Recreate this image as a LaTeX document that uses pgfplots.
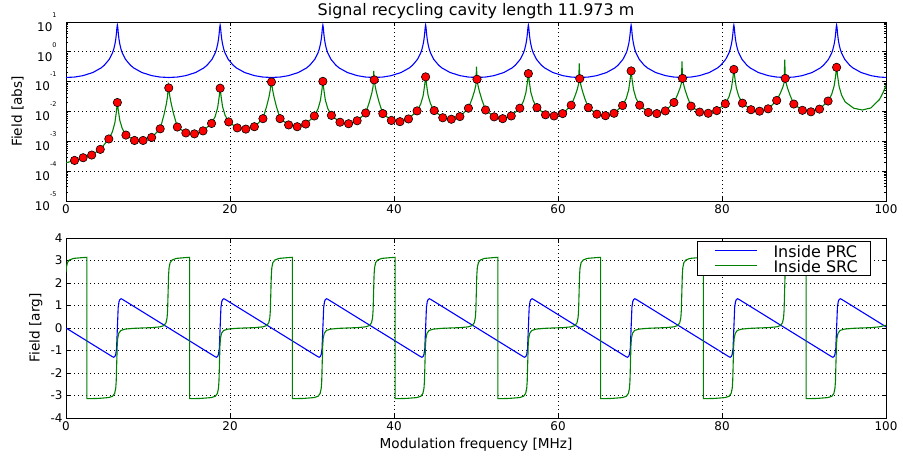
\documentclass[border=0pt]{standalone}
\usepackage{fontspec}
\setmainfont{DejaVu Sans}
\usepackage{pgfplots}
\pgfplotsset{compat=1.18}
\definecolor{mplblue}{rgb}{0,0,1}
\definecolor{mplgreen}{rgb}{0,0.5,0}
\newcommand{\tl}[1]{10\raisebox{14bp}{\fontsize{6.5}{7}\selectfont #1}}
\begin{document}
\begin{tikzpicture}
\useasboundingbox (0bp,0bp) rectangle (903bp,460bp);
\pgfplotsset{
  every axis/.append style={
    scale only axis, width=820bp,
    axis line style={line width=0.9bp},
    tick style={black, line width=0.8bp},
    major tick length=4.5bp, minor tick length=2.5bp,
    tick align=inside, xtick pos=both, ytick pos=both,
    grid=major, grid style={black, line width=0.8bp, dash pattern=on 1bp off 3bp},
    tick label style={font=\fontsize{12}{12}\selectfont},
    label style={font=\fontsize{13.7}{14}\selectfont},
    xmin=0, xmax=100, xtick={0,20,40,60,80,100}, xticklabels={0,20,40,60,80,100},
  },
  every axis title shift=0pt,
}
%------------------ top axis
\begin{axis}[at={(66bp,259bp)}, anchor=south west, height=179bp,
  ymode=log, ymin=1e-5, ymax=10,
  ytick={1e-5,1e-4,1e-3,1e-2,1e-1,1,10},
  yticklabels={\tl{-5},\tl{-4},\tl{-3},\tl{-2},\tl{-1},\tl{0},\tl{1}},
  yticklabel style={xshift=-6bp},
  ylabel={Field [abs]},
  ylabel style={at={(axis description cs:-0.0591,0.5)}, anchor=center},
  title={Signal recycling cavity length 11.973 m},
  title style={at={(axis description cs:0.5,1.0352)}, anchor=base, font=\fontsize{16}{16}\selectfont},
]
\addplot[mplblue, line width=1.1bp] coordinates {
(0,0.138)
(1.065,0.143)(2.065,0.159)(3.265,0.202)(4.265,0.287)(4.665,0.354)(5.265,0.556)(5.665,0.916)(5.815,1.21)(5.965,1.80)(6.065,2.61)(6.145,4.01)(6.215,6.60)(6.265,7.9)(6.315,6.60)(6.385,4.01)(6.465,2.61)(6.565,1.80)(6.715,1.21)(6.865,0.916)(7.265,0.556)(7.865,0.354)(8.265,0.287)(9.265,0.202)(10.465,0.159)(11.465,0.143)(12.53,0.138)
(13.595,0.143)(14.595,0.159)(15.795,0.202)(16.795,0.287)(17.195,0.354)(17.795,0.556)(18.195,0.916)(18.345,1.21)(18.495,1.80)(18.595,2.61)(18.675,4.01)(18.745,6.60)(18.795,7.9)(18.845,6.60)(18.915,4.01)(18.995,2.61)(19.095,1.80)(19.245,1.21)(19.395,0.916)(19.795,0.556)(20.395,0.354)(20.795,0.287)(21.795,0.202)(22.995,0.159)(23.995,0.143)(25.06,0.138)
(26.125,0.143)(27.125,0.159)(28.325,0.202)(29.325,0.287)(29.725,0.354)(30.325,0.556)(30.725,0.916)(30.875,1.21)(31.025,1.80)(31.125,2.61)(31.205,4.01)(31.275,6.60)(31.325,7.9)(31.375,6.60)(31.445,4.01)(31.525,2.61)(31.625,1.80)(31.775,1.21)(31.925,0.916)(32.325,0.556)(32.925,0.354)(33.325,0.287)(34.325,0.202)(35.525,0.159)(36.525,0.143)(37.59,0.138)
(38.655,0.143)(39.655,0.159)(40.855,0.202)(41.855,0.287)(42.255,0.354)(42.855,0.556)(43.255,0.916)(43.405,1.21)(43.555,1.80)(43.655,2.61)(43.735,4.01)(43.805,6.60)(43.855,7.9)(43.905,6.60)(43.975,4.01)(44.055,2.61)(44.155,1.80)(44.305,1.21)(44.455,0.916)(44.855,0.556)(45.455,0.354)(45.855,0.287)(46.855,0.202)(48.055,0.159)(49.055,0.143)(50.12,0.138)
(51.185,0.143)(52.185,0.159)(53.385,0.202)(54.385,0.287)(54.785,0.354)(55.385,0.556)(55.785,0.916)(55.935,1.21)(56.085,1.80)(56.185,2.61)(56.265,4.01)(56.335,6.60)(56.385,7.9)(56.435,6.60)(56.505,4.01)(56.585,2.61)(56.685,1.80)(56.835,1.21)(56.985,0.916)(57.385,0.556)(57.985,0.354)(58.385,0.287)(59.385,0.202)(60.585,0.159)(61.585,0.143)(62.65,0.138)
(63.715,0.143)(64.715,0.159)(65.915,0.202)(66.915,0.287)(67.315,0.354)(67.915,0.556)(68.315,0.916)(68.465,1.21)(68.615,1.80)(68.715,2.61)(68.795,4.01)(68.865,6.60)(68.915,7.9)(68.965,6.60)(69.035,4.01)(69.115,2.61)(69.215,1.80)(69.365,1.21)(69.515,0.916)(69.915,0.556)(70.515,0.354)(70.915,0.287)(71.915,0.202)(73.115,0.159)(74.115,0.143)(75.18,0.138)
(76.245,0.143)(77.245,0.159)(78.445,0.202)(79.445,0.287)(79.845,0.354)(80.445,0.556)(80.845,0.916)(80.995,1.21)(81.145,1.80)(81.245,2.61)(81.325,4.01)(81.395,6.60)(81.445,7.9)(81.495,6.60)(81.565,4.01)(81.645,2.61)(81.745,1.80)(81.895,1.21)(82.045,0.916)(82.445,0.556)(83.045,0.354)(83.445,0.287)(84.445,0.202)(85.645,0.159)(86.645,0.143)(87.71,0.138)
(88.775,0.143)(89.775,0.159)(90.975,0.202)(91.975,0.287)(92.375,0.354)(92.975,0.556)(93.375,0.916)(93.525,1.21)(93.675,1.80)(93.775,2.61)(93.855,4.01)(93.925,6.60)(93.975,7.9)(94.025,6.60)(94.095,4.01)(94.175,2.61)(94.275,1.80)(94.425,1.21)(94.575,0.916)(94.975,0.556)(95.575,0.354)(95.975,0.287)(96.975,0.202)(98.175,0.159)(99.175,0.143)(100,0.1385)
};
\addplot[mplgreen, line width=1.1bp] coordinates {
(0,1.905e-4)
(1.044,2.29e-4)(2.088,2.82e-4)(3.133,3.47e-4)(4.177,5.37e-4)(5.221,1.20e-3)
(5.665,2.11e-3)(5.965,4.26e-3)(6.145,9.89e-3)(6.265,2.00e-2)(6.385,1.065e-2)(6.565,5.01e-3)(6.865,2.68e-3)
(7.309,1.62e-3)(8.354,1.07e-3)(9.398,1.07e-3)(10.442,1.35e-3)(11.486,2.63e-3)
(11.93,7.45e-3)(12.23,1.746e-2)(12.39,3.28e-2)(12.47,7.59e-2)(12.53,6.17e-2)(12.65,3.37e-2)(12.83,1.845e-2)(13.13,8.17e-3)
(13.575,3.02e-3)(14.619,1.91e-3)(15.663,1.78e-3)(16.707,2.24e-3)(17.751,3.98e-3)
(18.196,6.85e-3)(18.496,1.352e-2)(18.676,3.05e-2)(18.796,6.03e-2)(18.916,3.14e-2)(19.096,1.440e-2)(19.396,7.52e-3)
(19.840,4.47e-3)(20.884,2.82e-3)(21.928,2.57e-3)(22.972,3.09e-3)(24.017,5.75e-3)
(24.461,1.466e-2)(24.761,3.15e-2)(24.921,5.55e-2)(25.001,0.1349)(25.061,9.77e-2)(25.181,5.55e-2)(25.361,3.15e-2)(25.661,1.466e-2)
(26.105,5.75e-3)(27.149,3.55e-3)(28.193,3.09e-3)(29.238,3.80e-3)(30.282,7.08e-3)
(30.726,1.208e-2)(31.026,2.355e-2)(31.206,5.25e-2)(31.326,0.1023)(31.446,5.31e-2)(31.626,2.415e-2)(31.926,1.253e-2)
(32.370,7.41e-3)(33.414,4.37e-3)(34.459,3.89e-3)(35.503,4.90e-3)(36.547,8.91e-3)
(36.991,2.07e-2)(37.291,4.13e-2)(37.451,6.89e-2)(37.531,0.2291)(37.591,0.1148)(37.711,6.82e-2)(37.891,4.06e-2)(38.191,2.01e-2)
(38.635,8.51e-3)(39.680,5.01e-3)(40.724,4.57e-3)(41.768,5.62e-3)(42.812,1.047e-2)
(43.256,1.770e-2)(43.556,3.41e-2)(43.736,7.50e-2)(43.856,0.1445)(43.976,7.72e-2)(44.156,3.46e-2)(44.456,1.803e-2)
(44.901,1.072e-2)(45.945,6.17e-3)(46.989,5.50e-3)(48.033,6.76e-3)(49.077,1.288e-2)
(49.522,2.69e-2)(49.822,4.92e-2)(49.982,7.69e-2)(50.062,0.3162)(50.122,0.1202)(50.242,7.48e-2)(50.422,4.66e-2)(50.722,2.455e-2)
(51.166,1.122e-2)(52.210,6.61e-3)(53.254,5.75e-3)(54.298,7.08e-3)(55.343,1.288e-2)
(55.787,2.198e-2)(56.087,4.29e-2)(56.267,9.55e-2)(56.387,0.1862)(56.507,9.66e-2)(56.687,4.40e-2)(56.987,2.280e-2)
(57.431,1.349e-2)(58.475,7.76e-3)(59.519,7.08e-3)(60.564,8.51e-3)(61.608,1.622e-2)
(62.052,3.19e-2)(62.352,5.55e-2)(62.512,8.36e-2)(62.592,0.4074)(62.652,0.1259)(62.772,8.05e-2)(62.952,5.15e-2)(63.252,2.82e-2)
(63.696,1.349e-2)(64.740,8.13e-3)(65.785,7.24e-3)(66.829,8.71e-3)(67.873,1.585e-2)
(68.317,2.704e-2)(68.617,5.27e-2)(68.797,0.1175)(68.917,0.2291)(69.037,0.1182)(69.217,5.34e-2)(69.517,2.754e-2)
(69.961,1.622e-2)(71.006,9.33e-3)(72.050,8.51e-3)(73.094,1.047e-2)(74.138,2.00e-2)
(74.582,3.69e-2)(74.882,6.11e-2)(75.042,8.87e-2)(75.122,0.4786)(75.182,0.1288)(75.302,8.39e-2)(75.482,5.47e-2)(75.782,3.07e-2)
(76.227,1.514e-2)(77.271,9.55e-3)(78.315,8.71e-3)(79.359,1.072e-2)(80.403,1.820e-2)
(80.848,3.09e-2)(81.148,5.99e-2)(81.328,0.1326)(81.448,0.2570)(81.568,0.1341)(81.748,6.14e-2)(82.048,3.21e-2)
(82.492,1.905e-2)(83.536,1.148e-2)(84.580,1.023e-2)(85.624,1.230e-2)(86.669,2.344e-2)
(87.113,4.11e-2)(87.413,6.52e-2)(87.573,9.16e-2)(87.653,0.5495)(87.713,0.1288)(87.833,8.67e-2)(88.013,5.83e-2)(88.313,3.42e-2)
(88.757,1.778e-2)(89.801,1.096e-2)(90.845,9.77e-3)(91.890,1.202e-2)(92.934,2.239e-2)
(93.378,3.77e-2)(93.678,7.22e-2)(93.858,0.1576)(93.978,0.3020)(94.098,0.1549)(94.278,6.95e-2)(94.578,3.56e-2)
(95.022,2.09e-2)(96.066,1.288e-2)(97.11,1.122e-2)(98.155,1.318e-2)(99.199,2.512e-2)(99.64,4.31e-2)(99.94,6.70e-2)(100,7.59e-2)
};
\addplot[only marks, mark=*, mark size=4.2bp, mark options={fill=red, draw=black, line width=0.6bp}] coordinates {
(1.044,2.29e-4)(2.088,2.82e-4)(3.133,3.47e-4)(4.177,5.37e-4)(5.221,1.20e-3)(6.265,2.00e-2)(7.309,1.62e-3)(8.354,1.07e-3)(9.398,1.07e-3)(10.442,1.35e-3)(11.486,2.63e-3)(12.53,6.17e-2)(13.575,3.02e-3)(14.619,1.91e-3)(15.663,1.78e-3)(16.707,2.24e-3)(17.751,3.98e-3)(18.796,6.03e-2)(19.840,4.47e-3)(20.884,2.82e-3)(21.928,2.57e-3)(22.972,3.09e-3)(24.017,5.75e-3)(25.061,9.77e-2)(26.105,5.75e-3)(27.149,3.55e-3)(28.193,3.09e-3)(29.238,3.80e-3)(30.282,7.08e-3)(31.326,0.1023)(32.370,7.41e-3)(33.414,4.37e-3)(34.459,3.89e-3)(35.503,4.90e-3)(36.547,8.91e-3)(37.591,0.1148)(38.635,8.51e-3)(39.680,5.01e-3)(40.724,4.57e-3)(41.768,5.62e-3)(42.812,1.047e-2)(43.856,0.1445)(44.901,1.072e-2)(45.945,6.17e-3)(46.989,5.50e-3)(48.033,6.76e-3)(49.077,1.288e-2)(50.122,0.1202)(51.166,1.122e-2)(52.210,6.61e-3)(53.254,5.75e-3)(54.298,7.08e-3)(55.343,1.288e-2)(56.387,0.1862)(57.431,1.349e-2)(58.475,7.76e-3)(59.519,7.08e-3)(60.564,8.51e-3)(61.608,1.622e-2)(62.652,0.1259)(63.696,1.349e-2)(64.740,8.13e-3)(65.785,7.24e-3)(66.829,8.71e-3)(67.873,1.585e-2)(68.917,0.2291)(69.961,1.622e-2)(71.006,9.33e-3)(72.050,8.51e-3)(73.094,1.047e-2)(74.138,2.00e-2)(75.182,0.1288)(76.227,1.514e-2)(77.271,9.55e-3)(78.315,8.71e-3)(79.359,1.072e-2)(80.403,1.820e-2)(81.448,0.2570)(82.492,1.905e-2)(83.536,1.148e-2)(84.580,1.023e-2)(85.624,1.230e-2)(86.669,2.344e-2)(87.713,0.1288)(88.757,1.778e-2)(89.801,1.096e-2)(90.845,9.77e-3)(91.890,1.202e-2)(92.934,2.239e-2)(93.978,0.3020)
};
\end{axis}
%------------------ bottom axis
\begin{axis}[at={(66bp,42bp)}, anchor=south west, height=180bp,
  ymin=-4, ymax=4, ytick={-4,-3,-2,-1,0,1,2,3,4},
  yticklabels={-4,-3,-2,-1,0,1,2,3,4},
  ylabel={Field [arg]},
  ylabel style={at={(axis description cs:-0.0366,0.5)}, anchor=center},
  xlabel={Modulation frequency [MHz]},
  xlabel style={at={(axis description cs:0.5,-0.168)}, anchor=base},
  legend style={at={(axis description cs:0.9817,0.985)}, anchor=north east,
    draw=black, line width=0.8bp, fill=white, font=\fontsize{16}{16}\selectfont,
    inner xsep=12bp, inner ysep=2bp, row sep=0bp, column sep=15bp,
    nodes={text height=14bp, text depth=1bp, inner ysep=0bp, inner xsep=1bp}},
  legend cell align=left,
  legend image code/.code={\path (-5bp,0bp); \draw[#1] (0bp,0bp) -- (42bp,0bp);},
]
\addplot[mplblue, line width=1.1bp] coordinates {
(0,0)
(5.665,-1.277)(5.815,-1.30)(5.965,-1.26)(6.065,-1.17)(6.165,-0.92)(6.265,0)(6.365,0.92)(6.465,1.17)(6.565,1.26)(6.715,1.30)(6.865,1.277)
(18.195,-1.277)(18.345,-1.30)(18.495,-1.26)(18.595,-1.17)(18.695,-0.92)(18.795,0)(18.895,0.92)(18.995,1.17)(19.095,1.26)(19.245,1.30)(19.395,1.277)
(30.725,-1.277)(30.875,-1.30)(31.025,-1.26)(31.125,-1.17)(31.225,-0.92)(31.325,0)(31.425,0.92)(31.525,1.17)(31.625,1.26)(31.775,1.30)(31.925,1.277)
(43.255,-1.277)(43.405,-1.30)(43.555,-1.26)(43.655,-1.17)(43.755,-0.92)(43.855,0)(43.955,0.92)(44.055,1.17)(44.155,1.26)(44.305,1.30)(44.455,1.277)
(55.785,-1.277)(55.935,-1.30)(56.085,-1.26)(56.185,-1.17)(56.285,-0.92)(56.385,0)(56.485,0.92)(56.585,1.17)(56.685,1.26)(56.835,1.30)(56.985,1.277)
(68.315,-1.277)(68.465,-1.30)(68.615,-1.26)(68.715,-1.17)(68.815,-0.92)(68.915,0)(69.015,0.92)(69.115,1.17)(69.215,1.26)(69.365,1.30)(69.515,1.277)
(80.845,-1.277)(80.995,-1.30)(81.145,-1.26)(81.245,-1.17)(81.345,-0.92)(81.445,0)(81.545,0.92)(81.645,1.17)(81.745,1.26)(81.895,1.30)(82.045,1.277)
(93.375,-1.277)(93.525,-1.30)(93.675,-1.26)(93.775,-1.17)(93.875,-0.92)(93.975,0)(94.075,0.92)(94.175,1.17)(94.275,1.26)(94.425,1.30)(94.575,1.277)
(100,0.054)
};
\addplot[mplgreen, line width=1.1bp] coordinates {
(0,2.47)(0.04,2.678)(0.17,2.906)(0.42,3.023)(0.92,3.094)(1.92,3.126)(2.55,3.1416)(2.55,-3.1416)(3.92,-3.130)(5.185,-3.093)(5.685,-3.032)(5.935,-2.906)(6.065,-2.678)(6.125,-2.356)(6.185,-1.571)(6.245,-0.785)(6.305,-0.464)(6.435,-0.236)(6.685,-0.11)(7.185,-0.05)(8.185,-0.016)(9.185,0)(10.45,0.016)
(11.45,0.05)(11.95,0.11)(12.20,0.235)(12.33,0.464)(12.39,0.785)(12.45,1.571)(12.51,2.356)(12.57,2.678)(12.70,2.906)(12.95,3.023)(13.45,3.094)(14.45,3.126)(15.08,3.1416)(15.08,-3.1416)(16.45,-3.130)(17.715,-3.093)(18.215,-3.032)(18.465,-2.906)(18.595,-2.678)(18.655,-2.356)(18.715,-1.571)(18.775,-0.785)(18.835,-0.464)(18.965,-0.236)(19.215,-0.11)(19.715,-0.05)(20.715,-0.016)(21.715,0)(22.98,0.016)
(23.98,0.05)(24.48,0.11)(24.73,0.235)(24.86,0.464)(24.92,0.785)(24.98,1.571)(25.04,2.356)(25.10,2.678)(25.23,2.906)(25.48,3.023)(25.98,3.094)(26.98,3.126)(27.61,3.1416)(27.61,-3.1416)(28.98,-3.130)(30.245,-3.093)(30.745,-3.032)(30.995,-2.906)(31.125,-2.678)(31.185,-2.356)(31.245,-1.571)(31.305,-0.785)(31.365,-0.464)(31.495,-0.236)(31.745,-0.11)(32.245,-0.05)(33.245,-0.016)(34.245,0)(35.51,0.016)
(36.51,0.05)(37.01,0.11)(37.26,0.235)(37.39,0.464)(37.45,0.785)(37.51,1.571)(37.57,2.356)(37.63,2.678)(37.76,2.906)(38.01,3.023)(38.51,3.094)(39.51,3.126)(40.14,3.1416)(40.14,-3.1416)(41.51,-3.130)(42.775,-3.093)(43.275,-3.032)(43.525,-2.906)(43.655,-2.678)(43.715,-2.356)(43.775,-1.571)(43.835,-0.785)(43.895,-0.464)(44.025,-0.236)(44.275,-0.11)(44.775,-0.05)(45.775,-0.016)(46.775,0)(48.04,0.016)
(49.04,0.05)(49.54,0.11)(49.79,0.235)(49.92,0.464)(49.98,0.785)(50.04,1.571)(50.10,2.356)(50.16,2.678)(50.29,2.906)(50.54,3.023)(51.04,3.094)(52.04,3.126)(52.67,3.1416)(52.67,-3.1416)(54.04,-3.130)(55.305,-3.093)(55.805,-3.032)(56.055,-2.906)(56.185,-2.678)(56.245,-2.356)(56.305,-1.571)(56.365,-0.785)(56.425,-0.464)(56.555,-0.236)(56.805,-0.11)(57.305,-0.05)(58.305,-0.016)(59.305,0)(60.57,0.016)
(61.57,0.05)(62.07,0.11)(62.32,0.235)(62.45,0.464)(62.51,0.785)(62.57,1.571)(62.63,2.356)(62.69,2.678)(62.82,2.906)(63.07,3.023)(63.57,3.094)(64.57,3.126)(65.20,3.1416)(65.20,-3.1416)(66.57,-3.130)(67.835,-3.093)(68.335,-3.032)(68.585,-2.906)(68.715,-2.678)(68.775,-2.356)(68.835,-1.571)(68.895,-0.785)(68.955,-0.464)(69.085,-0.236)(69.335,-0.11)(69.835,-0.05)(70.835,-0.016)(71.835,0)(73.10,0.016)
(74.10,0.05)(74.60,0.11)(74.85,0.235)(74.98,0.464)(75.04,0.785)(75.10,1.571)(75.16,2.356)(75.22,2.678)(75.35,2.906)(75.60,3.023)(76.10,3.094)(77.10,3.126)(77.73,3.1416)(77.73,-3.1416)(79.10,-3.130)(80.365,-3.093)(80.865,-3.032)(81.115,-2.906)(81.245,-2.678)(81.305,-2.356)(81.365,-1.571)(81.425,-0.785)(81.485,-0.464)(81.615,-0.236)(81.865,-0.11)(82.365,-0.05)(83.365,-0.016)(84.365,0)(85.63,0.016)
(86.63,0.05)(87.13,0.11)(87.38,0.235)(87.51,0.464)(87.57,0.785)(87.63,1.571)(87.69,2.356)(87.75,2.678)(87.88,2.906)(88.13,3.023)(88.63,3.094)(89.63,3.126)(90.26,3.1416)(90.26,-3.1416)(91.63,-3.130)(92.895,-3.093)(93.395,-3.032)(93.645,-2.906)(93.775,-2.678)(93.835,-2.356)(93.895,-1.571)(93.955,-0.785)(94.015,-0.464)(94.145,-0.236)(94.395,-0.11)(94.895,-0.05)(95.895,-0.016)(96.895,0)(98.16,0.016)(99.16,0.05)(100,0.12)
};
\legend{Inside PRC, Inside SRC}
\end{axis}
\end{tikzpicture}
\end{document}
